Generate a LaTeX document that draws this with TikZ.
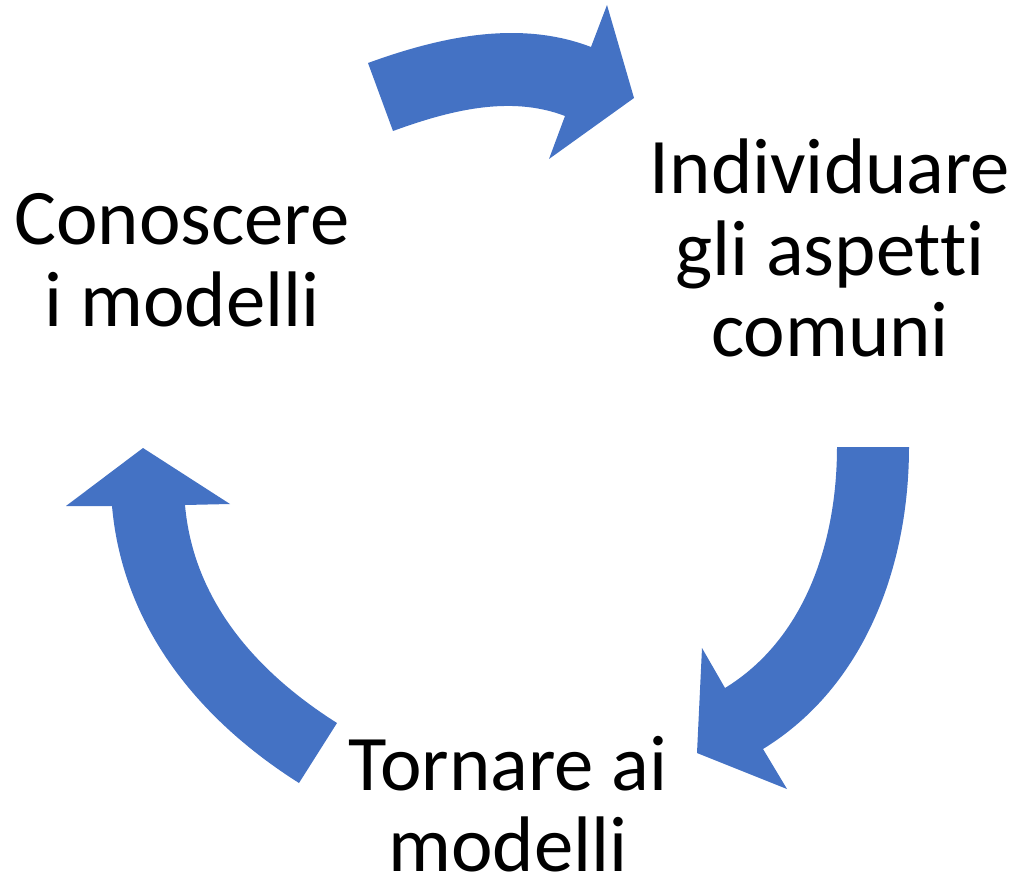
\documentclass[tikz,border=0pt]{standalone}
\usepackage{fontspec}
\setmainfont{Carlito}[Ligatures=CommonOff]
\usetikzlibrary{positioning,calc}
\definecolor{cycleblue}{HTML}{4472C4}

\begin{document}
\begin{tikzpicture}[
    x=0.025cm, y=0.025cm,
    stage/.style={align=center, inner sep=0pt, font=\fontsize{56}{58}\selectfont},
    cycarrow/.style={fill=cycleblue, draw=none}
  ]
  \useasboundingbox (0,0) rectangle (1019,884);

  \node[stage] (know) at (182,624) {Conoscere\\i modelli};
  \node[stage] (find) at (830,636) {Individuare\\gli aspetti\\comuni};
  \node[stage] (back) at (508,80) {Tornare ai\\modelli};

  % know -> find
  \fill[cycarrow] (368,821) to[out=20,in=159,looseness=0.88] (591,837)
    -- (607,879) -- (634,786) -- (549,725) -- (565,768)
    to[out=159,in=20,looseness=0.88] (393,753) -- cycle;

  % find -> back
  \fill[cycarrow] (909,437) to[out=-90,in=31.5,looseness=0.91] (763,135)
    -- (787,95) -- (697,131) -- (702,236) -- (725,196)
    to[out=31.5,in=-90,looseness=0.91] (837,437) -- cycle;

  % back -> know
  \fill[cycarrow] (299,101) to[out=147.7,in=-85,looseness=0.92] (112,378)
    -- (66,378) -- (143,436) -- (230,380) -- (185,379)
    to[out=-85,in=147.7,looseness=0.92] (337,161) -- cycle;
\end{tikzpicture}
\end{document}
